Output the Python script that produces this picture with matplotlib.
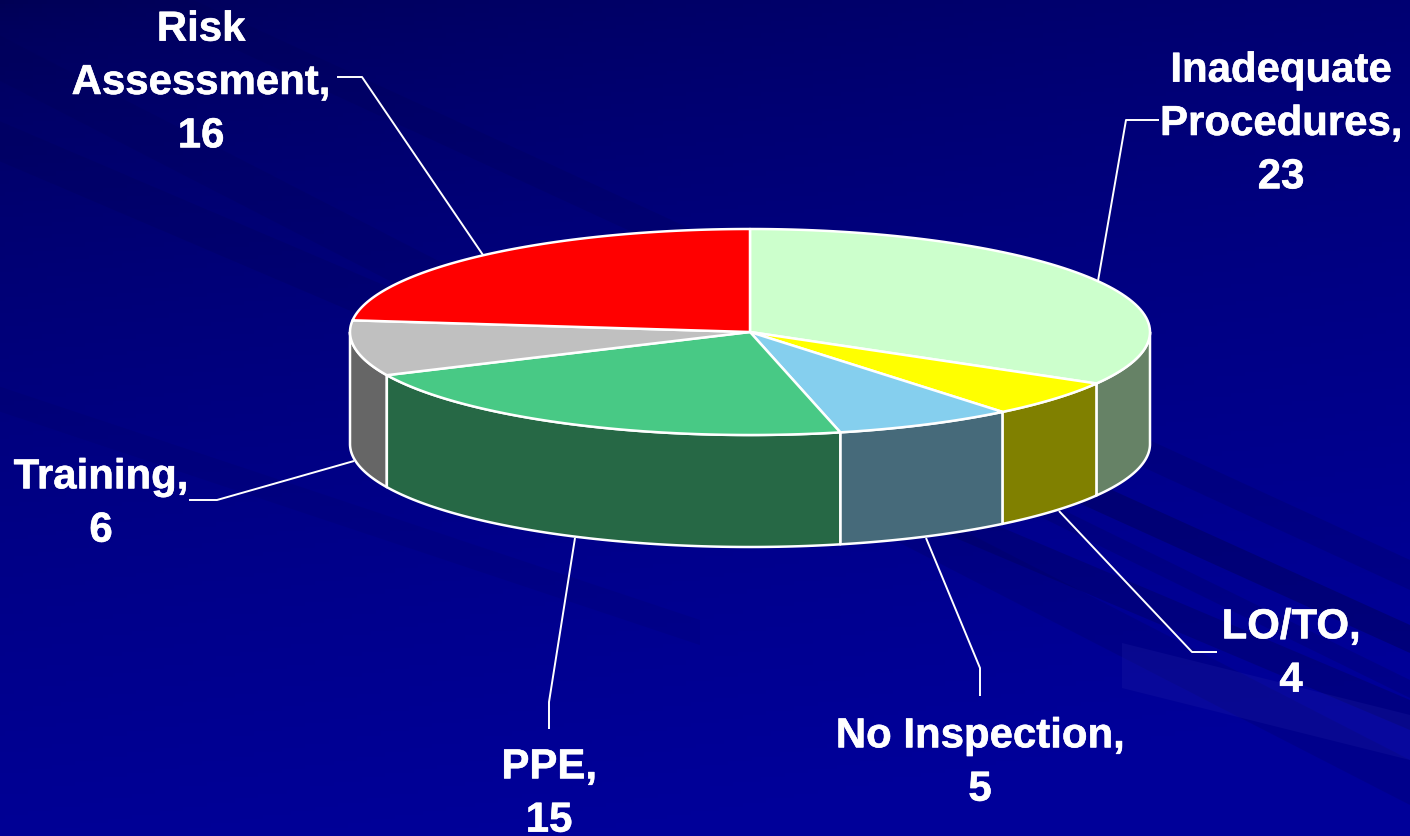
# imports
import numpy as np
import matplotlib
matplotlib.use("Agg")
import matplotlib.pyplot as plt
from matplotlib.patches import Polygon
import matplotlib.patheffects as pe

plt.rcParams['font.family'] = ['Liberation Sans', 'DejaVu Sans']

# data, clockwise from 12 o'clock
categories = ['Inadequate\nProcedures,\n23', 'LO/TO,\n4', 'No Inspection,\n5',
              'PPE,\n15', 'Training,\n6', 'Risk\nAssessment,\n16']
values = [23, 4, 5, 15, 6, 16]
top_colors = ['#CCFFCC', '#FFFF00', '#85CFEE', '#48C985', '#C0C0C0', '#FF0000']
side_colors = ['#668266', '#808000', '#466A7A', '#266845', '#666666', '#800000']

# label centre positions and leader lines (pixels)
label_pos = [(1281, 124), (1291, 654), (980, 763), (549, 794), (101, 504), (201, 83)]
leaders = [[(1159, 120), (1126, 120), (1098, 281)],
           [(1217, 652), (1192, 652), (1059, 511)],
           [(980, 696), (980, 668), (926, 538)],
           [(549, 729), (549, 702), (575, 538)],
           [(189, 500), (217, 500), (354, 461)],
           [(337, 77), (362, 77), (483, 255)]]

W, H = 1410, 836
cx, cy, rx, ry, depth = 750, 332, 400, 103, 112

fig = plt.figure(figsize=(W / 100, H / 100), dpi=100)
ax = fig.add_axes([0, 0, 1, 1])
ax.set_xlim(0, W)
ax.set_ylim(H, 0)
ax.axis('off')

# background gradient, dark in the top left corner
xx, yy = np.meshgrid(np.linspace(0, 1, 300), np.linspace(0, 1, 200))
g = np.clip(0.25 * xx + 0.9 * yy, 0, 1) ** 0.6
bg = np.zeros((200, 300, 3))
bg[..., 2] = 0.33 + (0.6 - 0.33) * g
ax.imshow(bg, extent=[0, W, H, 0], aspect='auto', zorder=0)

# slanted streaks
def streak(x0, y0, x1, y1, w, color, alpha):
    ax.add_patch(Polygon([(x0, y0), (x1, y1), (x1, y1 + w), (x0, y0 + w)],
                         facecolor=color, edgecolor='none', alpha=alpha, zorder=1))

streak(-50, 10, 1410, 760, 45, '#000050', 0.18)
streak(150, -20, 1410, 560, 30, '#000050', 0.2)
streak(-50, 100, 700, 420, 40, '#000050', 0.2)
streak(-50, 370, 700, 620, 25, '#000050', 0.12)
streak(560, 240, 1410, 625, 28, '#000050', 0.4)
streak(700, 400, 1410, 700, 30, '#000050', 0.3)
streak(900, 430, 1410, 680, 18, '#000050', 0.2)
streak(1122, 643, 1410, 715, 45, '#3030B0', 0.18)

# wedge angles from the values
angles = 360 * np.cumsum([0] + values) / sum(values)

def rim(a, b, n=80):
    t = np.radians(np.linspace(a, b, n))
    return cx + rx * np.sin(t), cy - ry * np.cos(t)

# side walls, only the front half shows
order = sorted(range(len(values)), key=lambda i: -abs(180 - (angles[i] + angles[i + 1]) / 2))
for i in order:
    a = max(angles[i], 90)
    b = min(angles[i + 1], 270)
    if a >= b:
        continue
    x, y = rim(a, b)
    pts = list(zip(x, y)) + list(zip(x[::-1], y[::-1] + depth))
    ax.add_patch(Polygon(pts, facecolor=side_colors[i], edgecolor='white', linewidth=1.8,
                         joinstyle='round', zorder=3))

# top faces
for i in range(len(values)):
    x, y = rim(angles[i], angles[i + 1])
    pts = [(cx, cy)] + list(zip(x, y))
    ax.add_patch(Polygon(pts, facecolor=top_colors[i], edgecolor='white', linewidth=1.8,
                         joinstyle='round', zorder=4))

# leader lines
for line in leaders:
    ax.plot([p[0] for p in line], [p[1] for p in line], color='white', linewidth=1.4,
            solid_capstyle='butt', zorder=5)

# labels
for (lx, ly), txt in zip(label_pos, categories):
    t = ax.text(lx, ly, txt, color='white', fontsize=30.2, fontweight='bold', ha='center',
                va='center', linespacing=1.43, zorder=6)
    t.set_path_effects([pe.withStroke(linewidth=0.4, foreground='white')])

fig.savefig('out.png', dpi=100)
